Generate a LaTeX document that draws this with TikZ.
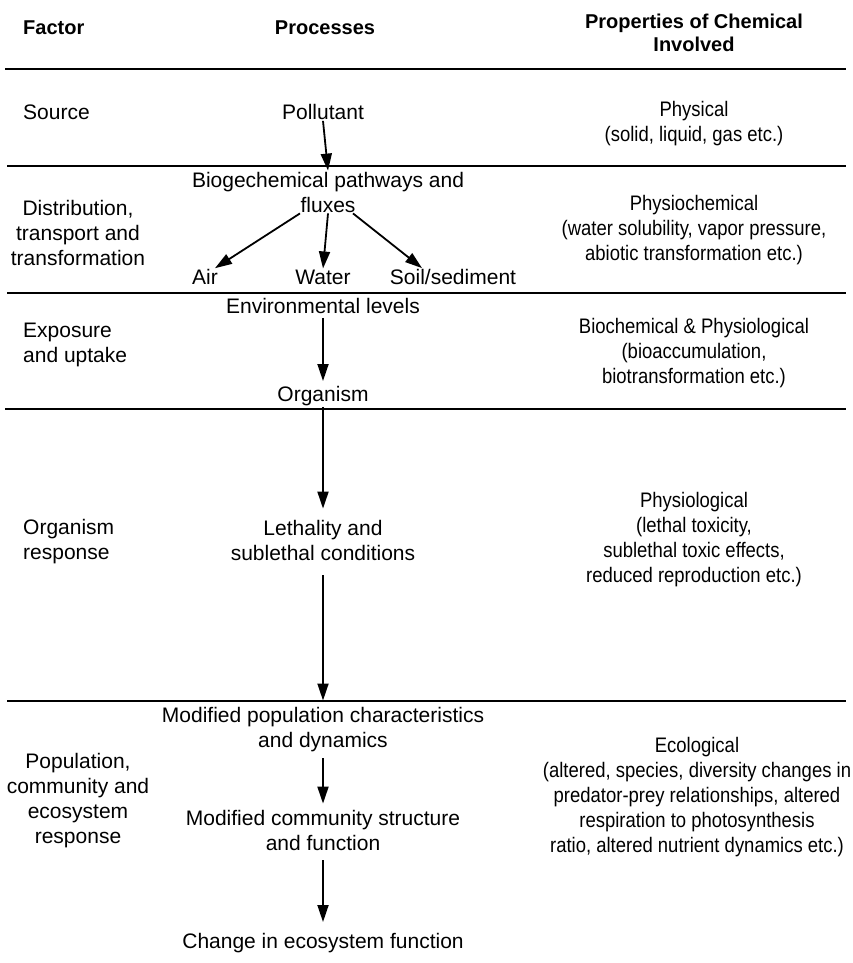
\documentclass[tikz,border=0pt]{standalone}
\usepackage{fontspec}
\setmainfont{Liberation Sans}
\newfontfamily\narrowfont[FakeStretch=0.88]{Liberation Sans}
\usetikzlibrary{arrows.meta}

\tikzstyle{txt} = [font=\fontsize{21}{25}\selectfont, align=center, inner sep=1pt]
\tikzstyle{prop} = [txt, font=\narrowfont\fontsize{21}{25}\selectfont]
\tikzstyle{head} = [txt, font=\fontsize{20}{23}\selectfont\bfseries]
\tikzstyle{lft} = [txt, anchor=west, align=left]
\tikzstyle{arr} = [line width=1.8pt, -{Triangle[length=17pt,width=11pt]}]
\tikzstyle{rule} = [line width=1.3pt]
\tikzstyle{bigrule} = [line width=2.8pt]

\begin{document}
\begin{tikzpicture}[x=1pt,y=-1pt]
\useasboundingbox (0,0) rectangle (853,963);

% headings
\node[head, anchor=west] (hfac) at (22,28) {Factor};
\node[head] (hproc) at (325,28) {Processes};
\node[head] (hprop) at (694,33) {Properties of Chemical\\Involved};
\draw[bigrule] (5,69) -- (846,69);

% source
\node[lft] (src) at (22,112) {Source};
\node[txt] (pol) at (323,112) {Pollutant};
\node[prop] (phys) at (694,124) {Physical\\(solid, liquid, gas etc.)};
\draw[rule] (7,166) -- (846,166);

% distribution
\node[txt] (dist) at (78,233) {Distribution,\\transport and\\transformation};
\node[txt] (bio) at (328,192) {Biogechemical pathways and\\fluxes};
\node[txt] (air) at (205,277) {Air};
\node[txt] (water) at (323,277) {Water};
\node[txt] (soil) at (453,277) {Soil/sediment};
\node[prop] (chem) at (694,230) {Physiochemical\\(water solubility, vapor pressure,\\abiotic transformation etc.)};
\draw[rule] (7,293) -- (846,293);

% exposure
\node[lft] (expo) at (22,345) {Exposure\\and uptake};
\node[txt] (env) at (323,306) {Environmental levels};
\node[txt] (org) at (323,396) {Organism};
\node[prop] (biochem) at (694,353) {Biochemical \& Physiological\\(bioaccumulation,\\biotransformation etc.)};
\draw[bigrule] (5,409) -- (846,409);

% organism response
\node[lft] (orgresp) at (22,542) {Organism\\response};
\node[txt] (leth) at (323,540) {Lethality and\\sublethal conditions};
\node[prop] (physio) at (694,540) {Physiological\\(lethal toxicity,\\sublethal toxic effects,\\reduced reproduction etc.)};
\draw[rule] (7,701) -- (846,701);

% population response
\node[txt] (popresp) at (78,801) {Population,\\community and\\ecosystem\\response};
\node[txt] (modpop) at (323,730) {Modified population characteristics\\and dynamics};
\node[txt] (modcom) at (323,830) {Modified community structure\\and function};
\node[txt] (change) at (323,943) {Change in ecosystem function};
\node[prop] (eco) at (697,797) {Ecological\\(altered, species, diversity changes in\\predator-prey relationships, altered\\respiration to photosynthesis\\ratio, altered nutrient dynamics etc.)};

% arrows
\draw[arr] (pol.south) -- (bio.north);
\draw[arr] ([xshift=-28pt]bio.south) -- ([xshift=10pt]air.north);
\draw[arr] (bio.south) -- (water.north);
\draw[arr] ([xshift=25pt]bio.south) -- ([xshift=-31pt]soil.north);
\draw[arr, shorten <=3pt, shorten >=4pt] (env.south) -- (org.north);
\draw[arr, shorten >=10pt] (org.south) -- (leth.north);
\draw[arr, shorten <=14pt, shorten >=6pt] (leth.south) -- (modpop.north);
\draw[arr, shorten <=5pt, shorten >=5pt] (modpop.south) -- (modcom.north);
\draw[arr, shorten <=9pt, shorten >=10pt] (modcom.south) -- (change.north);
\end{tikzpicture}
\end{document}
